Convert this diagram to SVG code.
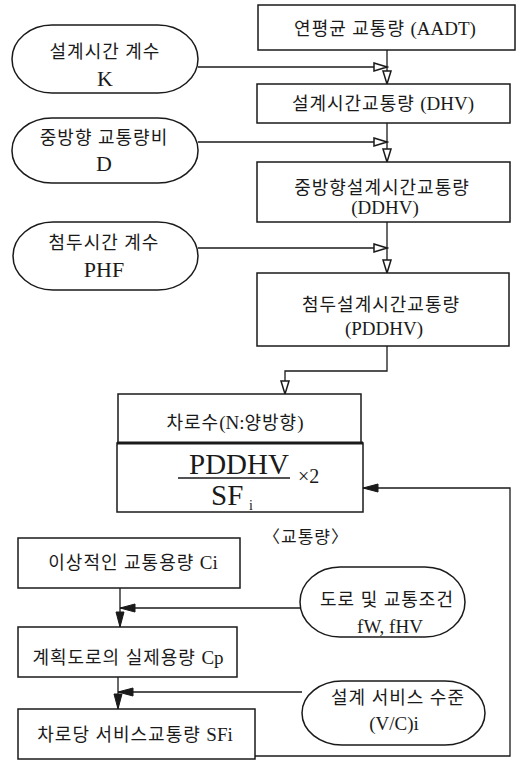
<svg xmlns="http://www.w3.org/2000/svg" width="517" height="761" viewBox="0 0 517 761">
<style>
  .box { fill: #fff; stroke: #1a1a1a; stroke-width: 1.5; }
  .pill { fill: #fff; stroke: #1a1a1a; stroke-width: 1.5; }
  .t { font-family: "Liberation Serif", "Noto Sans CJK KR", serif; font-size: 18px; letter-spacing: 1px; fill: #1a1a1a; text-anchor: middle; }
  .L { font-size: 19px; letter-spacing: 0; }
  .lt { font-family: "Liberation Serif", "Noto Sans CJK KR", serif; font-size: 22px; fill: #1a1a1a; text-anchor: middle; }
  .f { font-family: "Liberation Serif", serif; fill: #1a1a1a; }
  .c { fill: none; stroke: #1a1a1a; stroke-width: 1.3; }
</style>
<defs>
  <marker id="hollow" markerUnits="userSpaceOnUse" markerWidth="16" markerHeight="12" refX="14" refY="5" orient="auto">
    <path d="M1,1 L14,5 L1,9 Z" fill="#fff" stroke="#1a1a1a" stroke-width="1.5"/>
  </marker>
  <marker id="solid" markerUnits="userSpaceOnUse" markerWidth="18" markerHeight="12" refX="16" refY="5" orient="auto">
    <path d="M1,1 L16,5 L1,9 Z" fill="#1a1a1a" stroke="#1a1a1a" stroke-width="1"/>
  </marker>
</defs>

<g id="connectors">
  <path class="c" d="M198,67 H387" marker-end="url(#hollow)"/>
  <path class="c" d="M387,50 V84" marker-end="url(#hollow)"/>
  <path class="c" d="M198,142 H387" marker-end="url(#hollow)"/>
  <path class="c" d="M387,123 V162" marker-end="url(#hollow)"/>
  <path class="c" d="M198,248 H387" marker-end="url(#hollow)"/>
  <path class="c" d="M387,222 V273" marker-end="url(#hollow)"/>
  <path class="c" d="M387,346 V371 H285 V394" marker-end="url(#hollow)"/>
  <path class="c" d="M255,756 H510 V488 H363" marker-end="url(#solid)"/>
  <path class="c" d="M300,608 H120" marker-end="url(#solid)"/>
  <path class="c" d="M120,588 V627" marker-end="url(#solid)"/>
  <path class="c" d="M302,692 H118" marker-end="url(#solid)"/>
  <path class="c" d="M118,677 V709" marker-end="url(#solid)"/>
</g>

<g id="aadt">
  <rect class="box" x="258" y="5" width="257" height="45"/>
  <text class="t" x="385" y="35">연평균 교통량 <tspan class="L">(AADT)</tspan></text>
</g>
<g id="k">
  <rect class="pill" x="12" y="25" width="186" height="68" rx="40" ry="34"/>
  <text class="t" x="105" y="58">설계시간 계수</text>
  <text class="lt" x="105" y="86">K</text>
</g>
<g id="dhv">
  <rect class="box" x="257" y="84" width="253" height="39"/>
  <text class="t" x="383" y="110">설계시간교통량 <tspan class="L">(DHV)</tspan></text>
</g>
<g id="d">
  <rect class="pill" x="12" y="118" width="186" height="65" rx="40" ry="32"/>
  <text class="t" x="104" y="144">중방향 교통량비</text>
  <text class="lt" x="104" y="171">D</text>
</g>
<g id="ddhv">
  <rect class="box" x="257" y="162" width="253" height="60"/>
  <text class="t" x="382" y="194">중방향설계시간교통량</text>
  <text class="t" x="385" y="214"><tspan class="L">(DDHV)</tspan></text>
</g>
<g id="phf">
  <rect class="pill" x="13" y="222" width="185" height="68" rx="40" ry="34"/>
  <text class="t" x="104" y="249">첨두시간 계수</text>
  <text class="lt" x="104" y="277">PHF</text>
</g>
<g id="pddhv">
  <rect class="box" x="257" y="273" width="252" height="73"/>
  <text class="t" x="381" y="311">첨두설계시간교통량</text>
  <text class="t" x="384" y="335"><tspan class="L">(PDDHV)</tspan></text>
</g>
<g id="lanes">
  <rect class="box" x="118" y="394" width="243" height="49"/>
  <text class="t" x="235" y="429">차로수<tspan class="L">(N:</tspan>양방향<tspan class="L">)</tspan></text>
</g>
<g id="formula">
  <rect class="box" x="117" y="443" width="246" height="69"/>
  <line x1="117" y1="443" x2="363" y2="443" stroke="#1a1a1a" stroke-width="3"/>
  <text class="f" x="239" y="474" font-size="29" text-anchor="middle">PDDHV</text>
  <line x1="178" y1="478" x2="290" y2="478" stroke="#1a1a1a" stroke-width="1.5"/>
  <text class="f" x="211" y="505" font-size="29">SF</text>
  <text class="f" x="249" y="510" font-size="14">i</text>
  <text class="f" x="298" y="483" font-size="20">×2</text>
</g>
<g id="label">
  <text class="t" x="306" y="543" style="font-size:17px">〈교통량〉</text>
</g>
<g id="ci">
  <rect class="box" x="18" y="538" width="222" height="50"/>
  <text class="t" x="133" y="569">이상적인 교통용량 <tspan class="L">Ci</tspan></text>
</g>
<g id="road">
  <rect class="pill" x="300" y="567" width="165" height="70" rx="40" ry="35"/>
  <text class="t" x="387" y="606">도로 및 교통조건</text>
  <text class="t" x="390" y="633"><tspan class="L">fW, fHV</tspan></text>
</g>
<g id="cp">
  <rect class="box" x="18" y="627" width="219" height="50"/>
  <text class="t" x="128" y="664">계획도로의 실제용량 <tspan class="L">Cp</tspan></text>
</g>
<g id="vc">
  <rect class="pill" x="302" y="681" width="183" height="64" rx="40" ry="32"/>
  <text class="t" x="398" y="704">설계 서비스 수준</text>
  <text class="t" x="394" y="730"><tspan class="L">(V/C)i</tspan></text>
</g>
<g id="sfi">
  <rect class="box" x="18" y="709" width="237" height="50"/>
  <text class="t" x="135" y="741">차로당 서비스교통량 <tspan class="L">SFi</tspan></text>
</g>
</svg>
